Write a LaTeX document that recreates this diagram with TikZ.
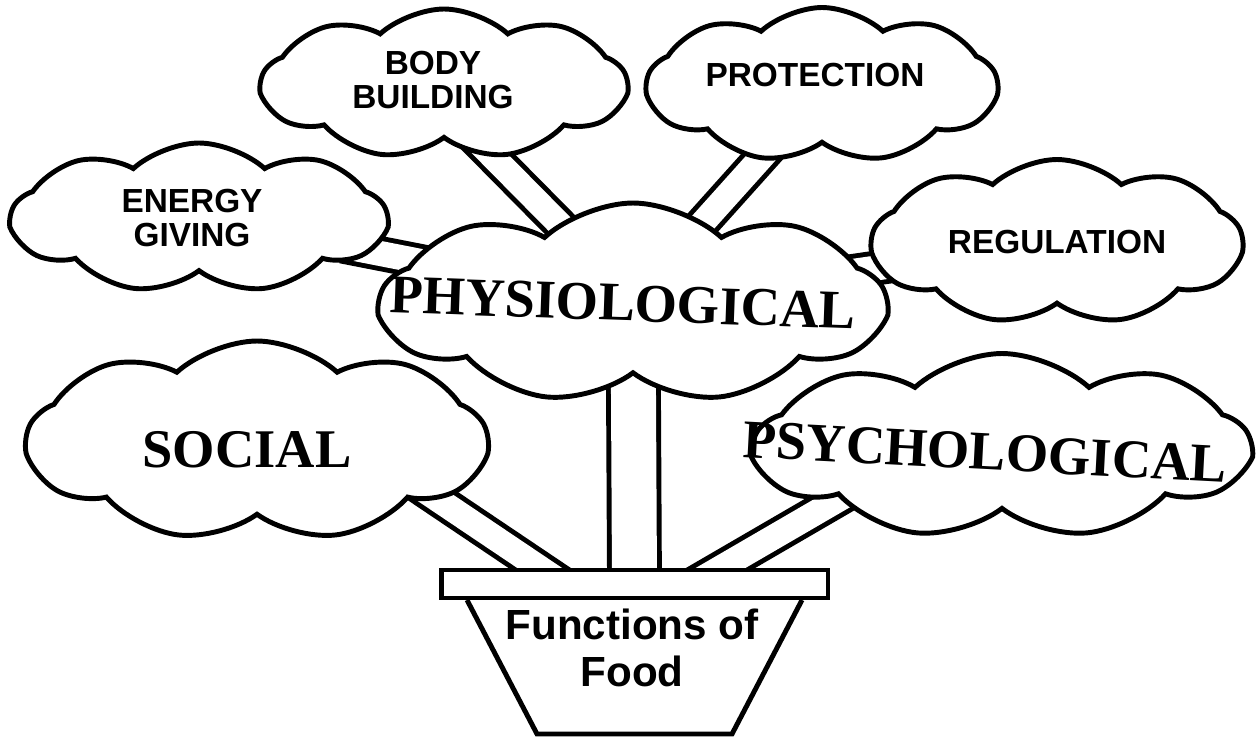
\documentclass[tikz,border=0pt]{standalone}
\usepackage{fontspec}
\setmainfont{Liberation Serif}
\setsansfont{Liberation Sans}
\usetikzlibrary{shapes.symbols,positioning}
\pgfdeclarelayer{background}
\pgfsetlayers{background,main}

\tikzset{
  puff/.style={cloud, cloud puffs=9, cloud puff arc=85, cloud ignores aspect,
    draw, line width=2.8pt, fill=white, inner sep=0pt},
  smalltag/.style={font=\sffamily\bfseries\fontsize{19}{19.5}\selectfont, align=center, inner sep=0pt},
  bigtag/.style={font=\bfseries\fontsize{31}{34}\selectfont, inner sep=0pt},
  pottag/.style={font=\sffamily\bfseries\fontsize{24}{27}\selectfont, align=center, inner sep=0pt},
  stem/.style={line width=2.8pt, double=white, double distance=0.5cm,
    shorten <=-0.6cm, shorten >=-0.6cm},
  trunk/.style={stem, double distance=0.9cm},
  potline/.style={draw, line width=2.8pt, fill=white, inner sep=0pt},
}

\begin{document}
\begin{tikzpicture}[x=0.02cm, y=-0.02cm]
\useasboundingbox (0,0) rectangle (1260,740);

% the clouds
\node[puff, minimum width=7.3cm, minimum height=3.0cm,
  label={[smalltag, xshift=-0.22cm, yshift=0.08cm]center:{BODY\\BUILDING}}] (body) at (444,84) {};
\node[puff, minimum width=7.0cm, minimum height=3.1cm,
  label={[smalltag, xshift=-0.14cm, yshift=0.2cm]center:PROTECTION}] (prot) at (822,85) {};
\node[puff, minimum width=7.5cm, minimum height=3.0cm,
  label={[smalltag, xshift=-0.14cm]center:{ENERGY\\GIVING}}] (energy) at (199,218) {};
\node[puff, minimum width=7.4cm, minimum height=3.3cm,
  label={[smalltag]center:REGULATION}] (reg) at (1057,242) {};
\node[puff, minimum width=10.1cm, minimum height=4.0cm,
  label={[bigtag, xshift=-0.2cm, rotate=-2]center:PHYSIOLOGICAL}] (phys) at (633,303) {};
\node[puff, minimum width=9.2cm, minimum height=4.0cm,
  label={[bigtag, xshift=-0.2cm, yshift=-0.18cm]center:SOCIAL}] (social) at (257,441) {};
\node[puff, minimum width=9.9cm, minimum height=3.7cm,
  label={[bigtag, xshift=-0.34cm, yshift=-0.12cm, rotate=-3]center:PSYCHOLOGICAL}] (psych) at (1002,446) {};

% the pot
\draw[potline] (467,600) -- (537,734) -- (732,734) -- (802,600);
\node[potline, minimum width=7.74cm, minimum height=0.56cm] (rim) at (634.5,584) {};
\node[pottag] (pot) at (632,648) {Functions of\\Food};

\coordinate (footL) at ([xshift=-1.42cm]rim.center);
\coordinate (footR) at ([xshift=1.17cm]rim.center);

% stems
\begin{pgfonlayer}{background}
\draw[stem] (body.-56) -- (phys.133);
\draw[stem] (prot.-130) -- (phys.49);
\draw[stem] (energy) -- (phys);
\draw[stem] (phys) -- (reg);
\draw[trunk] (phys) -- (rim);
\draw[stem] (social.-18) -- (footL);
\draw[stem] (psych.198) -- (footR);
\end{pgfonlayer}

\end{tikzpicture}
\end{document}
